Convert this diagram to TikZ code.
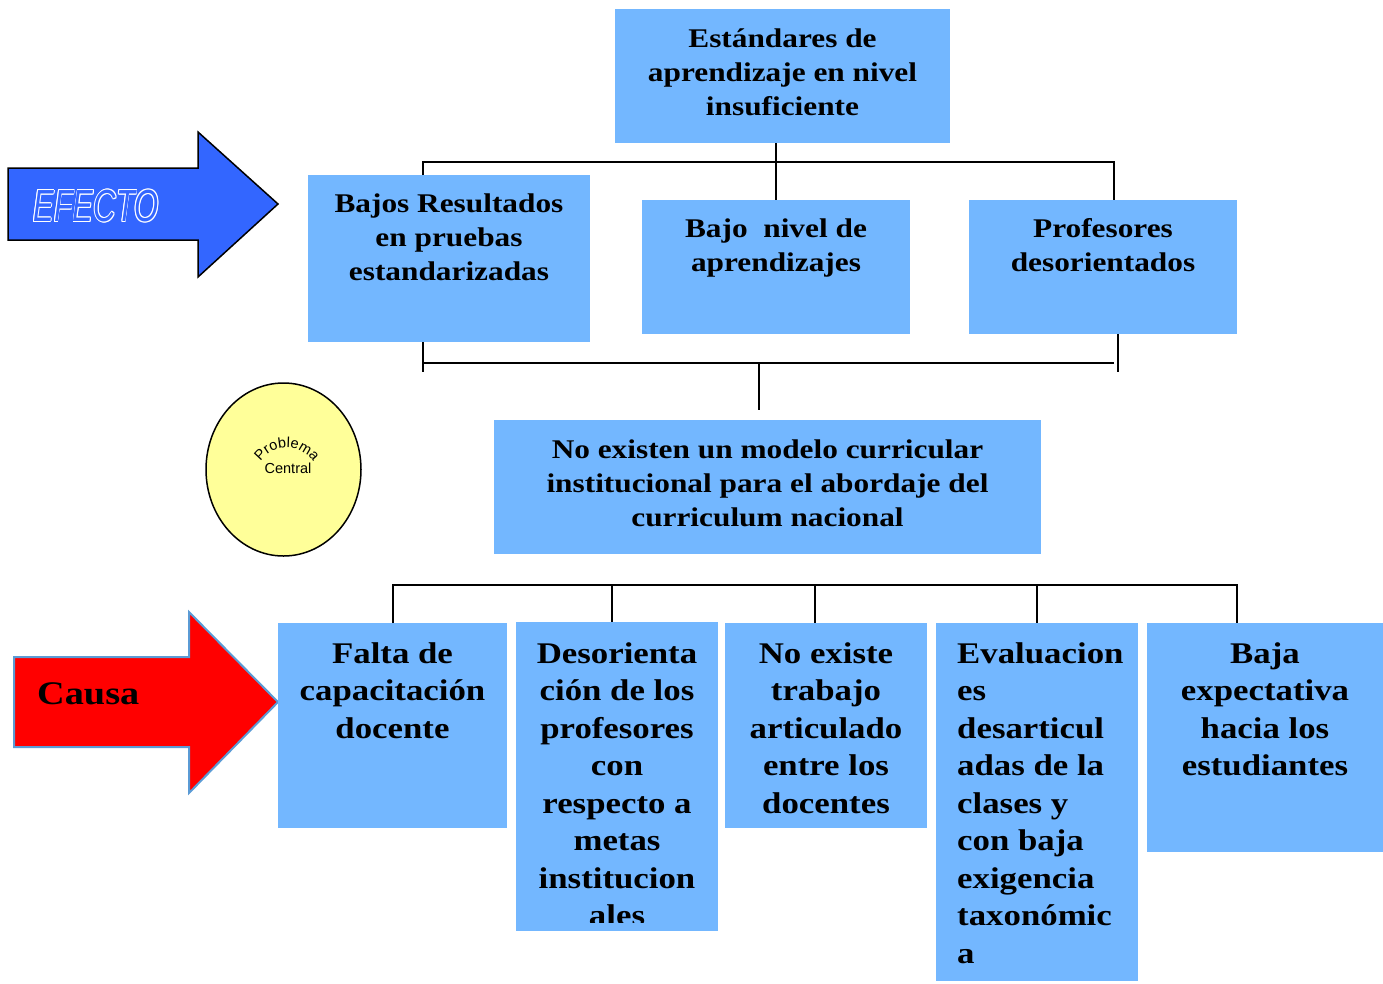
\documentclass[tikz,border=0pt]{standalone}
\usepackage{fontspec}
\setmainfont{Liberation Serif}[FakeStretch=1.16]
\newfontfamily\arialf{Liberation Sans}
\usetikzlibrary{shapes.geometric,decorations.text}
\definecolor{boxblue}{RGB}{115,183,255}
\definecolor{efblue}{RGB}{51,102,255}
\definecolor{causaedge}{RGB}{91,155,213}
\definecolor{probyellow}{RGB}{255,255,153}
\newcommand\hollowtxt[1]{%
\rlap{\hspace*{-1.1pt}\textcolor{white}{#1}}%
\rlap{\hspace*{1.1pt}\textcolor{white}{#1}}%
\rlap{\raisebox{1.1pt}{\textcolor{white}{#1}}}%
\rlap{\raisebox{-1.1pt}{\textcolor{white}{#1}}}%
\rlap{\hspace*{-0.8pt}\raisebox{0.8pt}{\textcolor{white}{#1}}}%
\rlap{\hspace*{0.8pt}\raisebox{0.8pt}{\textcolor{white}{#1}}}%
\rlap{\hspace*{-0.8pt}\raisebox{-0.8pt}{\textcolor{white}{#1}}}%
\rlap{\hspace*{0.8pt}\raisebox{-0.8pt}{\textcolor{white}{#1}}}%
\textcolor{efblue}{#1}}
\tikzset{
  box/.style={fill=boxblue, inner sep=0pt, outer sep=0pt},
  toplbl/.style={inner sep=0pt, align=center, anchor=north, font=\bfseries\fontsize{27}{34}\selectfont},
  botlbl/.style={inner sep=0pt, align=center, anchor=north, font=\bfseries\fontsize{30}{37.5}\selectfont},
  conn/.style={line width=1.8pt, black},
}
\begin{document}
\begin{tikzpicture}[x=1pt,y=-1pt]
\useasboundingbox (0,0) rectangle (1383,983);

% arrows
\path[fill=efblue, draw=black, line width=1.5pt, line join=miter]
  (8,168) -- (198,168) -- (198,132) -- (278,204) -- (198,277) -- (198,240) -- (8,240) -- cycle;
\node[inner sep=0pt, font=\arialf\itshape\fontsize{45}{50}\selectfont] (efecto) at (96,206)
  {\scalebox{0.69}[1]{\hollowtxt{EFECTO}}};

\path[fill=red, draw=causaedge, line width=2pt]
  (14,657) -- (189,657) -- (189,612) -- (278,702) -- (189,793) -- (189,747) -- (14,747) -- cycle;
\node[inner sep=0pt, anchor=base west, font=\bfseries\fontsize{33}{40}\selectfont] (causa) at (37,704) {Causa};

% problem circle
\node[ellipse, draw=black, line width=1.5pt, fill=probyellow, minimum width=155, minimum height=173, inner sep=0pt] (prob) at (283.5,469.5) {};
\path[postaction={decorate}, decoration={text along path, text align=center,
  text={|\arialf\fontsize{14.5}{16}\selectfont|Problema}}]
  (255,480) arc[start angle=180, end angle=360, radius=32];
\node[inner sep=0pt, anchor=base, font=\arialf\fontsize{14.5}{16}\selectfont] (central) at (288,473) {Central};

% boxes
\node[box, minimum width=335, minimum height=134] (top) at (782.5,76) {};
\node[box, minimum width=282, minimum height=167] (bajos) at (449,258.5) {};
\node[box, minimum width=268, minimum height=134] (bnivel) at (776,267) {};
\node[box, minimum width=268, minimum height=134] (prof) at (1103,267) {};
\node[box, minimum width=547, minimum height=134] (centr) at (767.5,487) {};
\node[box, minimum width=229, minimum height=205] (b1) at (392.5,725.5) {};
\node[box, minimum width=202, minimum height=309] (b2) at (617,776.5) {};
\node[box, minimum width=202, minimum height=205] (b3) at (826,725.5) {};
\node[box, minimum width=202, minimum height=358] (b4) at (1037,802) {};
\node[box, minimum width=236, minimum height=229] (b5) at (1265,737.5) {};

% labels
\node[toplbl] (ttop) at (782.5,23.2) {\strut Estándares de\\aprendizaje en nivel\\insuficiente};
\node[toplbl] (tbajos) at (449,188.5) {\strut Bajos Resultados\\en pruebas\\estandarizadas};
\node[toplbl] (tnivel) at (776,213.5) {\strut Bajo~ nivel de\\aprendizajes};
\node[toplbl] (tprof) at (1103,213.5) {\strut Profesores\\desorientados};
\node[toplbl] (tcentr) at (767.5,434) {\strut No existen un modelo curricular\\institucional para el abordaje del\\curriculum nacional};

\node[botlbl] (tb1) at (392.5,637) {\strut Falta de\\capacitación\\docente};
\begin{scope}
\clip (516,622) rectangle (718,922);
\node[botlbl] (tb2) at (617,637) {\strut Desorienta\\ción de los\\profesores\\con\\respecto a\\metas\\institucion\\ales};
\end{scope}
\node[botlbl] (tb3) at (826,637) {\strut No existe\\trabajo\\articulado\\entre los\\docentes};
\node[botlbl, align=left, anchor=north west] (tb4) at (957,637) {\strut Evaluacion\\es\\desarticul\\adas de la\\clases y\\con baja\\exigencia\\taxonómic\\a};
\node[botlbl] (tb5) at (1265,637) {\strut Baja\\expectativa\\hacia los\\estudiantes};

% connectors top
\coordinate (tl) at (423,162);
\coordinate (tr) at (1114,162);
\draw[conn] (top.south -| bnivel.north) -- (bnivel.north);
\draw[conn] (bajos.north -| tl) -- (tl) -- (tr) -- (prof.north -| tr);

% connectors middle
\coordinate (ml) at (423,363);
\coordinate (mr) at (1114,363);
\coordinate (mlb) at (423,372);
\coordinate (mrb) at (1118,372);
\coordinate (mc) at (759,410);
\draw[conn] (bajos.south -| mlb) -- (mlb);
\draw[conn] (ml) -- (mr);
\draw[conn] (prof.south -| mrb) -- (mrb);
\draw[conn] (ml -| mc) -- (mc);

% connectors bottom
\coordinate (bl) at (393,585);
\coordinate (br) at (1237,585);
\coordinate (c2) at (612,585);
\coordinate (c3) at (815,585);
\coordinate (c4) at (1037,585);
\draw[conn] (b1.north -| bl) -- (bl) -- (br) -- (b5.north -| br);
\draw[conn] (c2) -- (b2.north -| c2);
\draw[conn] (c3) -- (b3.north -| c3);
\draw[conn] (c4) -- (b4.north -| c4);
\end{tikzpicture}
\end{document}
